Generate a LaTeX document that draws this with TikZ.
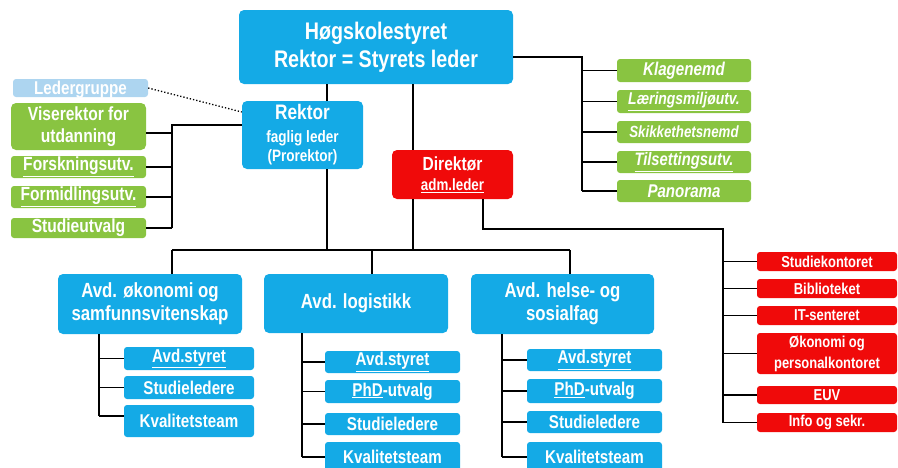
\documentclass[tikz,border=0pt]{standalone}
\usepackage{fontspec}
\setmainfont{Liberation Sans}[FakeStretch=0.82]
\definecolor{cblue}{RGB}{20,170,230}
\definecolor{cred}{RGB}{240,10,10}
\definecolor{cgreen}{RGB}{137,196,65}
\definecolor{clight}{RGB}{173,213,240}
\newcommand\fsz[2]{\fontsize{#1}{#2}\selectfont}
\tikzset{
  bx/.style={rounded corners=5pt, inner sep=0pt, text=white, align=center, font=\bfseries},
  bluebox/.style={bx, fill=cblue},
  redbox/.style={bx, fill=cred},
  greenbox/.style={bx, fill=cgreen},
  lightbox/.style={bx, fill=clight, rounded corners=3pt},
  conn/.style={draw=black, line width=1.5pt},
}
\begin{document}
\begin{tikzpicture}[x=1pt,y=-1pt]
\useasboundingbox (0,0) rectangle (898,467);
\clip (0,0) rectangle (898,467);
% top
\node[bluebox, minimum width=274, minimum height=74, font=\bfseries\fsz{24}{28}] (hs) at (376,47) {Høgskolestyret\\Rektor = Styrets leder};
\node[bluebox, minimum width=121, minimum height=68, font=\bfseries\fsz{16.5}{19.5}] (rek) at (302.5,135) {{\fsz{21}{19.5}Rektor}\\[3pt]faglig leder\\(Prorektor)};
\node[redbox, minimum width=121, minimum height=49, font=\bfseries\fsz{16.3}{20.5}] (dir) at (452.5,174.5) {{\fsz{19}{20.5}Direktør}\\\underline{adm.leder}};
% left
\node[lightbox, minimum width=135, minimum height=18, text height=14pt, text depth=2pt, font=\bfseries\fsz{18.5}{20}] (led) at (80.5,88) {Ledergruppe};
\node[greenbox, minimum width=135, minimum height=47, font=\bfseries\fsz{19}{22}] (vis) at (78.5,126.5) {Viserektor for\\utdanning};
\node[greenbox, minimum width=135, minimum height=22, rounded corners=3pt, font=\bfseries\fsz{19}{22}] (fors) at (78.5,167) {\underline{Forskningsutv.}};
\node[greenbox, minimum width=135, minimum height=22, rounded corners=3pt, font=\bfseries\fsz{19}{22}] (form) at (78.5,197) {\underline{Formidlingsutv.}};
\node[greenbox, minimum width=135, minimum height=20, rounded corners=3pt, font=\bfseries\fsz{19}{22}] (stud) at (78.5,228) {Studieutvalg};
% right green
\node[greenbox, minimum width=134, minimum height=23, rounded corners=3pt, font=\bfseries\itshape\fsz{18.5}{20}] (klag) at (684,70.5) {Klagenemd};
\node[greenbox, minimum width=134, minimum height=23, rounded corners=3pt, font=\bfseries\itshape\fsz{17}{20}] (laer) at (684,101.5) {\underline{Læringsmiljøutv.}};
\node[greenbox, minimum width=134, minimum height=22, rounded corners=3pt, font=\bfseries\itshape\fsz{16.2}{20}] (skik) at (684,132) {Skikkethetsnemd};
\node[greenbox, minimum width=134, minimum height=22, rounded corners=3pt, font=\bfseries\itshape\fsz{18}{20}] (tils) at (684,162) {\underline{Tilsettingsutv.}};
\node[greenbox, minimum width=134, minimum height=22, rounded corners=3pt, font=\bfseries\itshape\fsz{18.4}{20}] (pano) at (684,191) {Panorama};
% right red
\tikzset{rsm/.style={redbox, minimum width=140, rounded corners=3pt, font=\bfseries\fsz{15.8}{21}}}
\node[rsm, minimum height=19] (sk) at (827,261.5) {Studiekontoret};
\node[rsm, minimum height=19] (bib) at (827,288.5) {Biblioteket};
\node[rsm, minimum height=19] (it) at (827,315.5) {IT-senteret};
\node[rsm, minimum height=41] (ok) at (827,353.5) {Økonomi og\\personalkontoret};
\node[rsm, minimum height=18] (euv) at (827,395) {EUV};
\node[rsm, minimum height=19] (info) at (827,422.5) {Info og sekr.};
% departments
\tikzset{avd/.style={bluebox, minimum width=184, minimum height=60, font=\bfseries\fsz{20.5}{23}}}
\node[avd] (a1) at (150,304) {Avd. økonomi og\\samfunnsvitenskap};
\node[avd, minimum height=59] (a2) at (356,303.5) {Avd. logistikk};
\node[avd, minimum width=183] (a3) at (562.5,304) {Avd. helse- og\\sosialfag};
\tikzset{sub/.style={bluebox, rounded corners=3pt, minimum width=130, font=\bfseries\fsz{18.5}{20}}}
\node[sub, minimum height=23] (a1s) at (189,358.5) {\underline{Avd.styret}};
\node[sub, minimum height=23] (a1l) at (189,387.5) {Studieledere};
\node[sub, minimum height=32] (a1k) at (189,421) {Kvalitetsteam};
\node[sub, minimum width=135, minimum height=22] (a2s) at (392.5,362) {\underline{Avd.styret}};
\node[sub, minimum width=135, minimum height=23] (a2p) at (392.5,391.5) {\underline{PhD}-utvalg};
\node[sub, minimum width=135, minimum height=22] (a2l) at (392.5,424) {Studieledere};
\node[sub, minimum width=135, minimum height=30] (a2k) at (392.5,457) {Kvalitetsteam};
\node[sub, minimum width=135, minimum height=22] (a3s) at (594.5,360) {\underline{Avd.styret}};
\node[sub, minimum width=135, minimum height=24] (a3p) at (594.5,391) {\underline{PhD}-utvalg};
\node[sub, minimum width=135, minimum height=22] (a3l) at (594.5,422) {Studieledere};
\node[sub, minimum width=135, minimum height=30] (a3k) at (594.5,457) {Kvalitetsteam};
% coordinates
\coordinate (xr) at (327,0);
\coordinate (xd) at (413,0);
\coordinate (bl) at (172,250);
\coordinate (bm) at (372,250);
\coordinate (br) at (570,250);
\coordinate (xl) at (172,0);
\coordinate (xg) at (582,0);
\coordinate (xrd) at (723,0);
\coordinate (xd2) at (483,0);
% connectors
\draw[conn] (xr |- hs.south) -- (xr |- rek.north);
\draw[conn] (xr |- rek.south) -- (xr |- bl);
\draw[conn] (xd |- hs.south) -- (xd |- dir.north);
\draw[conn] (xd |- dir.south) -- (xd |- bl);
\draw[conn] (bl) -- (br);
\draw[conn] (bl) -- (bl |- a1.north);
\draw[conn] (bm) -- (bm |- a2.north);
\draw[conn] (br) -- (br |- a3.north);
% rektor left
\draw[conn] (rek.west |- 0,125) -- (xl |- 0,125) -- (xl |- stud.east);
\draw[conn] (xl |- 0,133) -- (vis.east |- 0,133);
\draw[conn] (xl |- fors.east) -- (fors.east);
\draw[conn] (xl |- form.east) -- (form.east);
\draw[conn] (xl |- stud.east) -- (stud.east);
\draw[line width=1.3pt, dotted] (led.east) -- (rek.west |- 0,112);
% styret right
\draw[conn] (hs.east |- 0,57) -- (xg |- 0,57) -- (xg |- pano.west);
\foreach \n in {klag,laer,skik,tils,pano} \draw[conn] (xg |- \n.west) -- (\n.west);
% direktor right
\draw[conn] (xd2 |- dir.south) -- (xd2 |- 0,229) -- (xrd |- 0,229) -- (xrd |- info.west);
\foreach \n in {sk,bib,it,ok,euv,info} \draw[conn] (xrd |- \n.west) -- (\n.west);
% department subs
\draw[conn] (99,0 |- a1.south) -- (99,416);
\draw[conn] (99,0 |- a1s.west) -- (a1s.west);
\draw[conn] (99,0 |- a1l.west) -- (a1l.west);
\draw[conn] (99,416) -- (a1k.west |- 0,416);
\draw[conn] (302,0 |- a2.south) -- (302,0 |- a2k.west);
\foreach \n in {a2s,a2p,a2l,a2k} \draw[conn] (302,0 |- \n.west) -- (\n.west);
\draw[conn] (502,0 |- a3.south) -- (502,0 |- a3k.west);
\foreach \n in {a3s,a3p,a3l,a3k} \draw[conn] (502,0 |- \n.west) -- (\n.west);
\end{tikzpicture}
\end{document}
